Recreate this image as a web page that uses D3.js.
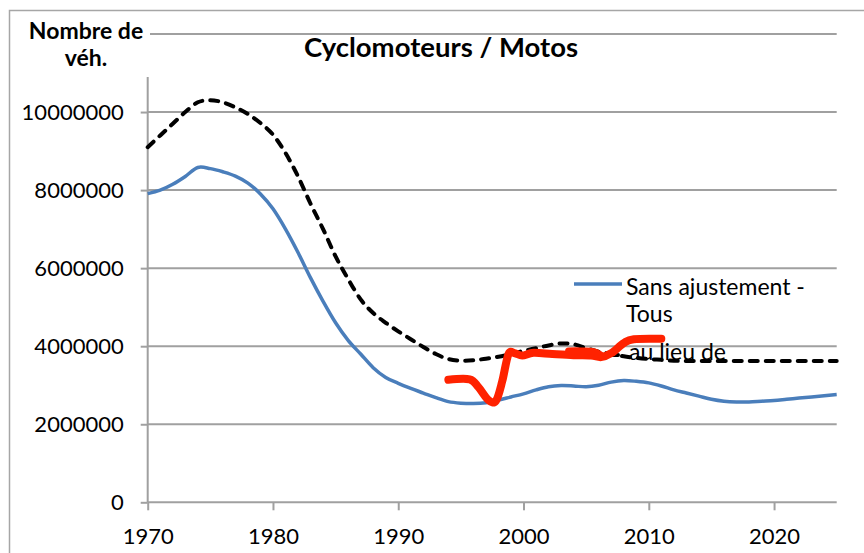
<!DOCTYPE html>
<html>
<head>
<meta charset="utf-8">
<script src="https://cdn.jsdelivr.net/npm/d3@7"></script>
<style>
  body { margin: 0; background: #fff; }
  text { font-family: Lato, "Open Sans", sans-serif; fill: #000; }
</style>
</head>
<body>
<div id="chart"></div>
<script>

// data (vehicles, millions -> multiplied below)
let years = [1970, 1971, 1972, 1973, 1974, 1975, 1976, 1977, 1978, 1979,
    1980, 1981, 1982, 1983, 1984, 1985, 1986, 1987, 1988, 1989,
    1990, 1991, 1992, 1993, 1994, 1995, 1996, 1997, 1998, 1999,
    2000, 2001, 2002, 2003, 2004, 2005, 2006, 2007, 2008, 2009,
    2010, 2011, 2012, 2013, 2014, 2015, 2016, 2017, 2018, 2019,
    2020, 2021, 2022, 2023, 2024, 2025];

let sansAjustement = [7.91, 8.0, 8.15, 8.35, 8.58, 8.55, 8.47, 8.36, 8.18, 7.9,
    7.52, 7.0, 6.4, 5.75, 5.15, 4.6, 4.15, 3.8, 3.45, 3.2,
    3.05, 2.92, 2.8, 2.68, 2.58, 2.54, 2.53, 2.55, 2.62, 2.7,
    2.78, 2.88, 2.96, 2.99, 2.98, 2.96, 3.0, 3.08, 3.12, 3.1,
    3.06, 2.98, 2.88, 2.8, 2.72, 2.64, 2.59, 2.57, 2.57, 2.59,
    2.61, 2.64, 2.67, 2.7, 2.73, 2.76];

let auLieuDe = [9.1, 9.4, 9.7, 10.0, 10.25, 10.3, 10.25, 10.12, 9.95, 9.72,
    9.42, 8.95, 8.35, 7.65, 7.0, 6.3, 5.72, 5.2, 4.85, 4.6,
    4.38, 4.18, 3.98, 3.8, 3.67, 3.63, 3.64, 3.68, 3.73, 3.8,
    3.88, 3.95, 4.02, 4.07, 4.05, 3.95, 3.86, 3.8, 3.74, 3.7,
    3.67, 3.65, 3.63, 3.62, 3.62, 3.62, 3.62, 3.62, 3.62, 3.62,
    3.62, 3.62, 3.62, 3.62, 3.62, 3.62];

// hand drawn red correction
let redYears = [1994.0, 1995.7, 1996.4, 1997.2, 1997.8, 1998.3, 1998.8, 1999.3, 1999.9,
    2000.8, 2002.3, 2004.0, 2005.4, 2006.2, 2007.0, 2008.0, 2008.8, 2011.0];
let redValues = [3.14, 3.15, 2.95, 2.62, 2.6, 3.1, 3.8, 3.82, 3.76,
    3.83, 3.8, 3.77, 3.76, 3.72, 3.82, 4.08, 4.18, 4.19];
let redLoopYears = [2003.6, 2004.6, 2005.6, 2006.3];
let redLoopValues = [3.88, 3.88, 3.86, 3.74];

let yTicks = [0, 2000000, 4000000, 6000000, 8000000, 10000000, 12000000];
let xTicks = [1970, 1980, 1990, 2000, 2010, 2020];

let svgWidth = 864;
let svgHeight = 553;

let plot = { left: 147.7, right: 836.7, top: 34, bottom: 502.3 };

let svg = d3.select("#chart")
    .append("svg")
    .attr("width", svgWidth)
    .attr("height", svgHeight);

// outer chart border (cropped at right / bottom)
svg.append("rect")
    .attr("x", 9.5)
    .attr("y", 10.5)
    .attr("width", 900)
    .attr("height", 600)
    .attr("fill", "#fff")
    .attr("stroke", "#a6a6a6")
    .attr("stroke-width", 1.5);

let xScale = d3.scaleLinear()
    .domain([1970, 2025])
    .range([plot.left, plot.right]);

let yScale = d3.scaleLinear()
    .domain([0, 12000000])
    .range([plot.bottom, plot.top]);

// gridlines
svg.append("g")
    .selectAll("line")
    .data(yTicks.filter(d => d > 0))
    .enter()
    .append("line")
    .attr("x1", plot.left)
    .attr("x2", plot.right)
    .attr("y1", d => yScale(d))
    .attr("y2", d => yScale(d))
    .attr("stroke", "#a0a0a0")
    .attr("stroke-width", 2);

// top tick label sits under the axis title, so it is left empty
let leftAxis = d3.axisLeft(yScale)
    .tickValues(yTicks)
    .tickFormat(d => d === 12000000 ? "" : d3.format("d")(d))
    .tickSize(7)
    .tickPadding(17);

let bottomAxis = d3.axisBottom(xScale)
    .tickValues(xTicks)
    .tickFormat(d3.format("d"))
    .tickSize(8)
    .tickPadding(18);

let yAxis = svg.append("g")
    .attr("transform", `translate(${plot.left}, 0)`)
    .call(leftAxis);

let xAxis = svg.append("g")
    .attr("transform", `translate(0, ${plot.bottom})`)
    .call(bottomAxis);

[xAxis, yAxis].forEach(a => {
    a.select(".domain").attr("stroke", "#a0a0a0").attr("stroke-width", 2);
    a.selectAll(".tick line").attr("stroke", "#a0a0a0").attr("stroke-width", 2);
    a.selectAll("text")
        .attr("font-family", "Lato, sans-serif")
        .attr("font-size", 22)
        .attr("fill", "#000");
});
yAxis.select(".domain").attr("d", `M0,${plot.top}V${plot.bottom}`);
xAxis.select(".domain").attr("d", `M${plot.left},0H${plot.right}`);

let line = d3.line()
    .x(d => xScale(d[0]))
    .y(d => yScale(d[1] * 1000000))
    .curve(d3.curveCatmullRom.alpha(0));

svg.append("path")
    .datum(years.map((y, i) => [y, sansAjustement[i]]))
    .attr("d", line)
    .attr("fill", "none")
    .attr("stroke", "#4a7ebb")
    .attr("stroke-width", 3.5);

svg.append("path")
    .datum(years.map((y, i) => [y, auLieuDe[i]]))
    .attr("d", line)
    .attr("fill", "none")
    .attr("stroke", "#000")
    .attr("stroke-width", 4)
    .attr("stroke-linecap", "round")
    .attr("stroke-dasharray", "8 8");

// legend (transparent, partly cut)
let legend = svg.append("g");
legend.append("line")
    .attr("x1", 574).attr("x2", 622)
    .attr("y1", 284).attr("y2", 284)
    .attr("stroke", "#4a7ebb")
    .attr("stroke-width", 3.5);
legend.append("text")
    .attr("x", 626).attr("y", 295)
    .attr("font-size", 23)
    .text("Sans ajustement -");
legend.append("text")
    .attr("x", 626).attr("y", 322)
    .attr("font-size", 23)
    .text("Tous");
legend.append("line")
    .attr("x1", 578).attr("x2", 622)
    .attr("y1", 355).attr("y2", 355)
    .attr("stroke", "#000")
    .attr("stroke-width", 4)
    .attr("stroke-linecap", "round")
    .attr("stroke-dasharray", "8 8");
legend.append("text")
    .attr("x", 629).attr("y", 360)
    .attr("font-size", 23)
    .text("au lieu de");

// red hand drawn line
svg.append("path")
    .datum(redYears.map((y, i) => [y, redValues[i]]))
    .attr("d", line)
    .attr("fill", "none")
    .attr("stroke", "#ff2200")
    .attr("stroke-width", 8)
    .attr("stroke-linecap", "round")
    .attr("stroke-linejoin", "round");

svg.append("path")
    .datum(redLoopYears.map((y, i) => [y, redLoopValues[i]]))
    .attr("d", line)
    .attr("fill", "none")
    .attr("stroke", "#ff2200")
    .attr("stroke-width", 7)
    .attr("stroke-linecap", "round");

// axis title box hides the top of the axis
svg.append("rect")
    .attr("x", 18)
    .attr("y", 16)
    .attr("width", 132)
    .attr("height", 61)
    .attr("fill", "#fff");

svg.append("text")
    .attr("x", 86).attr("y", 39)
    .attr("text-anchor", "middle")
    .attr("font-size", 23)
    .attr("font-weight", "bold")
    .text("Nombre de");
svg.append("text")
    .attr("x", 86).attr("y", 66)
    .attr("text-anchor", "middle")
    .attr("font-size", 23)
    .attr("font-weight", "bold")
    .text("véh.");

svg.append("text")
    .attr("x", 441).attr("y", 57)
    .attr("text-anchor", "middle")
    .attr("font-size", 27.5)
    .attr("font-weight", "bold")
    .text("Cyclomoteurs / Motos");

</script>
</body>
</html>
